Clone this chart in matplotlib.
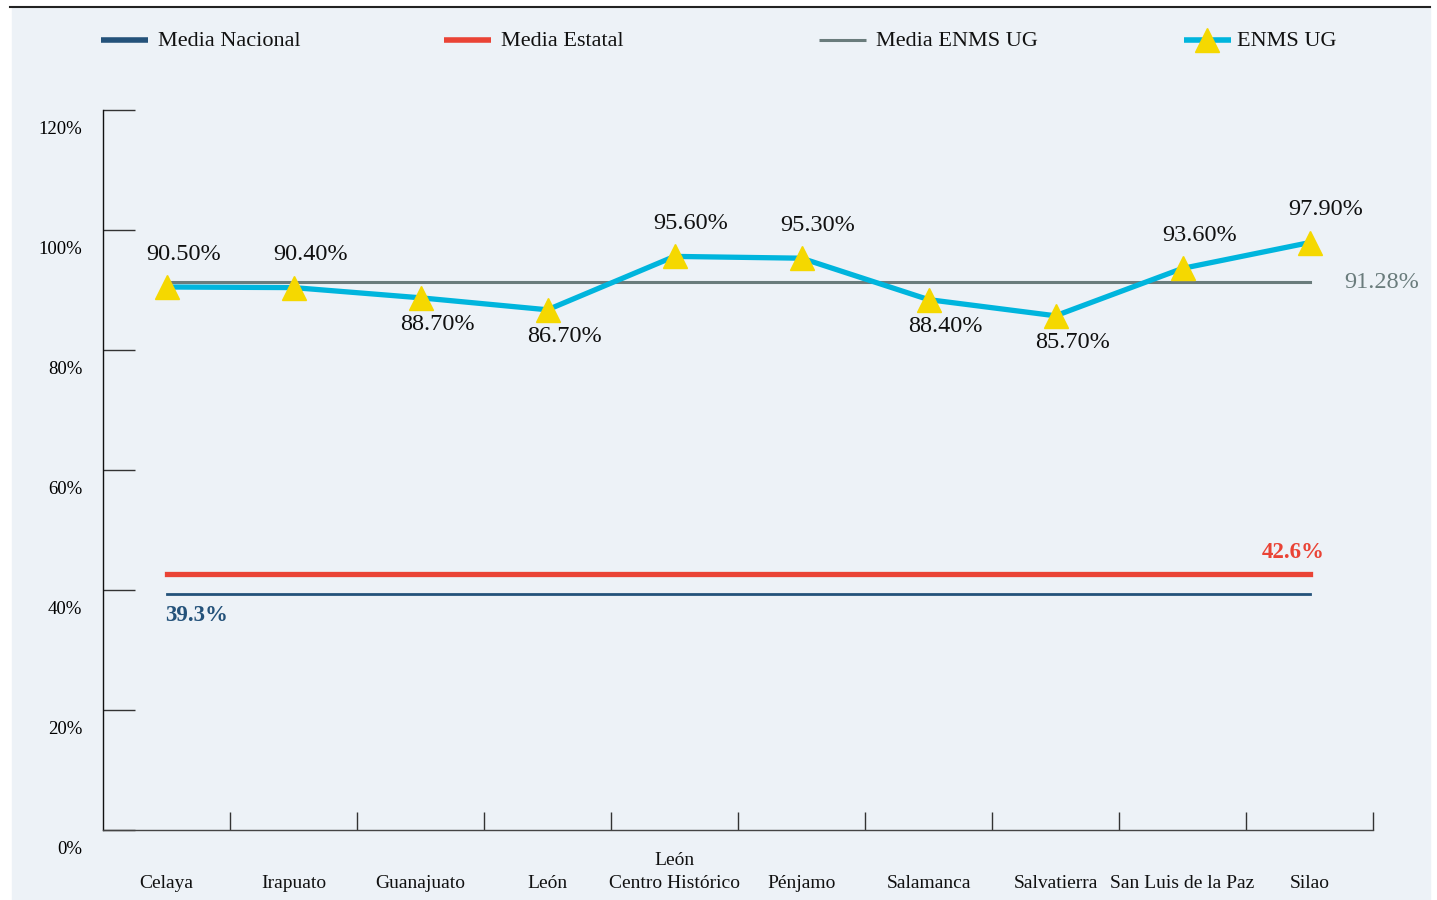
import matplotlib

matplotlib.use("Agg")
import matplotlib.pyplot as plt
from matplotlib.lines import Line2D
from matplotlib.patches import Rectangle
from matplotlib.transforms import ScaledTranslation, blended_transform_factory
import numpy as np

# --- data ---
campus = ["Celaya", "Irapuato", "Guanajuato", "León", "León\nCentro Histórico",
          "Pénjamo", "Salamanca", "Salvatierra", "San Luis de la Paz", "Silao"]
enms_ug = [90.5, 90.4, 88.7, 86.7, 95.6, 95.3, 88.4, 85.7, 93.6, 97.9]
label_above = [True, True, False, False, True, True, False, False, True, True]
media_enms = 91.28
media_estatal = 42.6
media_nacional = 39.3
y_ticks = [0, 20, 40, 60, 80, 100, 120]

NAVY = "#24527a"
RED = "#ea4335"
GRAY = "#6a7c7c"
CYAN = "#00b5dd"
YELLOW = "#f5d800"
PANEL = "#edf2f7"
SERIF = ["Liberation Serif", "DejaVu Serif"]

plt.rcParams["font.family"] = SERIF

W, H = 1437, 900
fig = plt.figure(figsize=(W / 100, H / 100), dpi=100)
fig.patch.set_facecolor("white")

# background panel + top rule
fig.add_artist(Rectangle((12 / W, 0), (1430 - 12) / W, (900 - 8) / H,
                         transform=fig.transFigure, color=PANEL, zorder=-10))
fig.add_artist(Line2D([10 / W, 1430 / W], [1 - 7 / H, 1 - 7 / H],
                      transform=fig.transFigure, color="#222222", lw=1.5, zorder=-5))

ax = fig.add_axes([103 / W, 70 / H, 1270 / W, 720 / H])
ax.set_facecolor("none")
x = np.arange(len(campus))
xlo, xhi = -0.5, len(campus) - 0.5
ax.set_xlim(xlo, xhi)
ax.set_ylim(0, 120)

# reference lines
ax.plot([x[0], x[-1]], [media_enms] * 2, color=GRAY, lw=2.2, zorder=2)
ax.plot([x[0], x[-1]], [media_estatal] * 2, color=RED, lw=3.8, zorder=2)
ax.plot([x[0], x[-1]], [media_nacional] * 2, color=NAVY, lw=2.0, zorder=2)

# main series
ax.plot(x, enms_ug, color=CYAN, lw=3.8, zorder=3)
ax.plot(x, enms_ug, ls="none", marker="^", ms=17, color=YELLOW, mec=YELLOW, zorder=4)

for xi, v, up in zip(x, enms_ug, label_above):
    ax.annotate(f"{v:.2f}%", (xi, v), xytext=(12, 16 if up else -12),
                textcoords="offset points", ha="center",
                va="bottom" if up else "top", fontsize=17.5, color="#111111")

ax.annotate(f"{media_enms:.2f}%", (x[-1], media_enms), xytext=(52, 0),
            textcoords="offset points", ha="center", va="center",
            fontsize=17.5, color=GRAY)
ax.annotate(f"{media_estatal}%", (x[-1], media_estatal), xytext=(-12, 8),
            textcoords="offset points", ha="center", va="bottom",
            fontsize=16.5, fontweight="bold", color=RED)
ax.annotate(f"{media_nacional}%", (x[0], media_nacional), xytext=(22, -8),
            textcoords="offset points", ha="center", va="top",
            fontsize=16.5, fontweight="bold", color=NAVY)

# axes styling
for s in ["top", "right"]:
    ax.spines[s].set_visible(False)
ax.spines["left"].set_color("#111111")
ax.spines["bottom"].set_color("#444444")
ax.spines["left"].set_linewidth(1.0)
ax.spines["bottom"].set_linewidth(1.0)

ax.set_yticks(y_ticks)
ax.set_yticklabels([f"{t}%" for t in y_ticks])
ax.tick_params(axis="y", direction="in", length=23, width=1.0, color="#333333",
               pad=15, labelsize=13.5)
for lab in ax.get_yticklabels():
    lab.set_transform(lab.get_transform() + ScaledTranslation(0, -0.17, fig.dpi_scale_trans))

ax.set_xticks(np.arange(xlo + 1, xhi + 0.01, 1.0))
ax.set_xticklabels([])
ax.tick_params(axis="x", direction="in", length=13, width=1.0, color="#333333")

trans = blended_transform_factory(ax.transData, ax.transAxes)
for xi, name in zip(x, campus):
    ax.text(xi, -0.086, name, transform=trans, ha="center", va="bottom",
            fontsize=14, color="#111111", linespacing=1.45)

# legend drawn in pixel space
lg = fig.add_axes([0, 0, 1, 1])
lg.set_xlim(0, W)
lg.set_ylim(H, 0)
lg.axis("off")
lg.patch.set_visible(False)
legend_items = [
    ("Media Nacional", NAVY, 4.0, None, 101),
    ("Media Estatal", RED, 4.0, None, 444),
    ("Media ENMS UG", GRAY, 2.2, None, 819),
    ("ENMS UG", CYAN, 4.0, "^", 1184),
]
for name, col, lw, mk, x0 in legend_items:
    lg.plot([x0, x0 + 47], [40, 40], color=col, lw=lw, solid_capstyle="butt")
    if mk:
        lg.plot([x0 + 23], [40], ls="none", marker=mk, ms=17, color=YELLOW)
    lg.text(x0 + 57 if not mk else x0 + 53, 42, name, ha="left", va="center",
            fontsize=16, color="#111111")

fig.savefig("out.png", dpi=100, facecolor=fig.get_facecolor())
